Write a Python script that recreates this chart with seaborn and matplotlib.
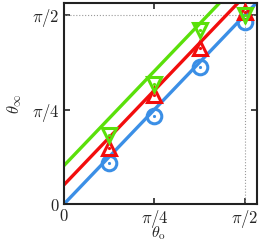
import numpy as np
import pandas as pd
import matplotlib
matplotlib.use("Agg")
import matplotlib.pyplot as plt
import seaborn as sns

# data
theta_o = [np.pi / 8, np.pi / 4, 3 * np.pi / 8, np.pi / 2]
blue_pts = [0.341, 0.731, 1.139, 1.513]
red_pts = [0.466, 0.906, 1.297, 1.596]
green_pts = [0.574, 0.998, 1.446, 1.571]

fit_x = [0.0, 1.75]
blue_fit = [0.0, 1.75]
red_fit = [0.16, 1.91]
green_fit = [0.32, 2.07]

tick_pos = [0, np.pi / 4, np.pi / 2]
tick_labels = ["$0$", r"$\pi/4$", r"$\pi/2$"]

c_blue = "#3b8fe6"
c_red = "#f20d0d"
c_green = "#5ae00a"

sns.set_style("ticks")
plt.rcParams["mathtext.fontset"] = "cm"
plt.rcParams["font.family"] = ["DejaVu Serif"]

fig = plt.figure(figsize=(2.6, 2.43), dpi=100)
ax = fig.add_axes([0.246, 0.160, 0.742, 0.828])

ax.axhline(np.pi / 2, color="#999999", ls=":", lw=0.8, zorder=1)
ax.axvline(np.pi / 2, color="#999999", ls=":", lw=0.8, zorder=1)

for fx, fy, c in [(fit_x, blue_fit, c_blue), (fit_x, red_fit, c_red), (fit_x, green_fit, c_green)]:
    sns.lineplot(x=fx, y=fy, color=c, lw=2.4, ax=ax, zorder=2)

for ys, c, m in [(blue_pts, c_blue, "o"), (red_pts, c_red, "^"), (green_pts, c_green, "v")]:
    sns.lineplot(x=theta_o, y=ys, color=c, marker=m, linestyle="", markersize=10.5,
                 mfc="none", markeredgecolor=c, markeredgewidth=2.2, ax=ax, zorder=3)
    sns.lineplot(x=theta_o, y=ys, color=c, marker=".", linestyle="", markersize=3,
                 markeredgecolor=c, ax=ax, zorder=3)

ax.set_xlim(0, 1.675)
ax.set_ylim(0, 1.671)
ax.set_xticks(tick_pos)
ax.set_xticklabels(tick_labels)
ax.set_yticks(tick_pos)
ax.set_yticklabels(tick_labels)
ax.tick_params(direction="in", top=True, right=True, length=4, width=1.2, labelsize=12, pad=3)
for s in ax.spines.values():
    s.set_linewidth(1.5)
    s.set_color("#222222")

ax.set_xlabel(r"$\theta_\mathrm{o}$", fontsize=11.5)
ax.xaxis.set_label_coords(0.49, -0.1)
ax.set_ylabel(r"$\theta_\infty$", fontsize=12, labelpad=6)

fig.savefig("out.png", dpi=100)
